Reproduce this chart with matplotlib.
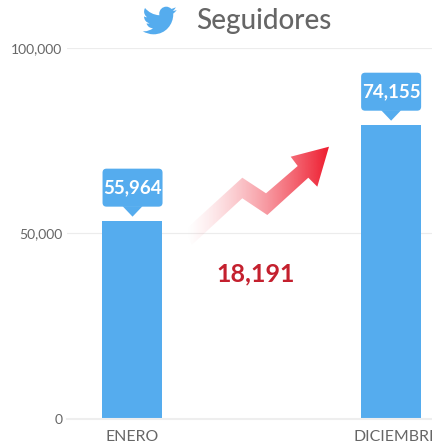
"""
Seguidores de Twitter, enero vs diciembre
"""
import numpy as np
import matplotlib
matplotlib.use('Agg')
import matplotlib.pyplot as plt
from matplotlib.patches import FancyBboxPatch, Polygon, PathPatch
from matplotlib.path import Path
from matplotlib.transforms import ScaledTranslation

W, H = 432, 445

categories = ['ENERO', 'DICIEMBRE']
bar_heights = [53400, 79300]
bar_labels = ['55,964', '74,155']
y_ticks = [0, 50000, 100000]
y_tick_labels = ['0', '50,000', '100,000']
difference = '18,191'

BLUE = '#55acee'
GREY = '#666666'

plt.rcParams['font.family'] = ['Lato', 'DejaVu Sans']

fig = plt.figure(figsize=(W / 100, H / 100), dpi=100)

# main axes, 0 at y=418.5px and 100,000 at y=48px
top = 48
bottom = 418.5
ax = fig.add_axes([67 / W, 1 - bottom / H, 1 - 67 / W, (bottom - top) / H])
ax.set_xlim(-0.2515, 1.16)
ax.set_ylim(0, 100000)
ax.bar(range(len(categories)), bar_heights, width=0.232, color=BLUE, zorder=2)
ax.set_yticks(y_ticks)
ax.set_yticklabels(y_tick_labels, fontsize=10, color=GREY)
ax.set_xticks(range(len(categories)))
ax.set_xticklabels(categories, fontsize=11.4, color=GREY)
ax.tick_params(length=0)
ax.tick_params(axis='y', pad=3.5)
ax.tick_params(axis='x', pad=8)
ax.grid(axis='y', color='#ececec', linewidth=0.8, zorder=0)
ax.spines[['top', 'right', 'left']].set_visible(False)
ax.spines['bottom'].set_color('#eeeeee')
ax.spines['bottom'].set_linewidth(1.5)

# DICIEMBRE runs off the right edge in the original
last = ax.get_xticklabels()[1]
last.set_transform(last.get_transform() + ScaledTranslation(0.055, 0, fig.dpi_scale_trans))

# overlay in pixel coords for the decorations
ov = fig.add_axes([0, 0, 1, 1], zorder=5)
ov.set_xlim(0, W)
ov.set_ylim(H, 0)
ov.axis('off')

fig.canvas.draw()
for i, (v, lab) in enumerate(zip(bar_heights, bar_labels)):
    px = ax.transData.transform((i, v))
    cx = px[0] + 0.5
    tip = H - px[1] - 4
    box_top = tip - 48
    box_bot = tip - 10
    ov.add_patch(FancyBboxPatch((cx - 28, box_top + 2), 56, 34,
                                boxstyle='round,pad=2,rounding_size=4',
                                fc=BLUE, ec='none'))
    ov.add_patch(Polygon([(cx - 10, box_bot - 0.5), (cx + 10, box_bot - 0.5), (cx, tip)],
                         fc=BLUE, ec='none'))
    ov.text(cx, (box_top + box_bot) / 2, lab, color='white', fontsize=13.5,
            fontweight='bold', ha='center', va='center')

# arrow with gradient
arrow = [(329, 146.7), (290.7, 156.7), (297.7, 166), (266, 193.3), (242.3, 177.7),
         (185, 230), (191.7, 245), (242.3, 198.3), (267.3, 215), (308.3, 177.7),
         (317.3, 186.7)]
grad = np.zeros((2, 256, 4))
grad[..., 0] = 238 / 255
grad[..., 1] = 28 / 255
grad[..., 2] = 46 / 255
grad[..., 3] = np.linspace(0, 1, 256) ** 1.4
im = ov.imshow(grad, extent=(185, 329, 246, 146), aspect='auto', zorder=3,
               interpolation='bilinear')
clip = Polygon(arrow, closed=True, transform=ov.transData, fc='none', ec='none')
ov.add_patch(clip)
im.set_clip_path(clip)
ov.set_xlim(0, W)
ov.set_ylim(H, 0)

ov.text(255.5, 274, difference, color='#c4202e', fontsize=18, fontweight='bold',
        ha='center', va='center')
ov.text(263.5, 21, 'Seguidores', color=GREY, fontsize=20, fontweight='medium',
        ha='center', va='center')

# twitter bird
bird = [
    (Path.MOVETO, (23.953, 4.57)),
    (Path.CURVE3, (22.6, 5.15)), (Path.CURVE3, (21.128, 5.345)),
    (Path.CURVE3, (22.65, 4.4)), (Path.CURVE3, (23.291, 2.622)),
    (Path.CURVE4, (22.34, 3.177)), (Path.CURVE4, (21.286, 3.581)), (Path.CURVE4, (20.164, 3.806)),
    (Path.CURVE4, (19.27, 2.85)), (Path.CURVE4, (18.0, 2.25)), (Path.CURVE4, (16.6, 2.25)),
    (Path.CURVE4, (13.9, 2.25)), (Path.CURVE4, (11.68, 4.45)), (Path.CURVE4, (11.68, 7.17)),
    (Path.CURVE4, (11.68, 7.55)), (Path.CURVE4, (11.72, 7.93)), (Path.CURVE4, (11.78, 8.288)),
    (Path.CURVE4, (7.69, 8.095)), (Path.CURVE4, (4.067, 6.13)), (Path.CURVE4, (1.64, 3.162)),
    (Path.CURVE3, (0.974, 4.3)), (Path.CURVE3, (0.974, 5.637)),
    (Path.CURVE4, (0.974, 7.347)), (Path.CURVE4, (1.844, 8.85)), (Path.CURVE4, (3.162, 9.733)),
    (Path.CURVE3, (1.95, 9.69)), (Path.CURVE3, (0.934, 9.117)),
    (Path.LINETO, (0.934, 9.177)),
    (Path.CURVE3, (1.05, 13.0)), (Path.CURVE3, (4.88, 14.004)),
    (Path.CURVE3, (3.8, 14.3)), (Path.CURVE3, (2.668, 14.089)),
    (Path.CURVE3, (3.8, 17.3)), (Path.CURVE3, (7.272, 17.506)),
    (Path.CURVE3, (4.6, 19.6)), (Path.CURVE3, (1.17, 19.611)),
    (Path.CURVE4, (0.78, 19.611)), (Path.CURVE4, (0.391, 19.588)), (Path.CURVE4, (0, 19.544)),
    (Path.CURVE3, (3.4, 21.75)), (Path.CURVE3, (7.557, 21.753)),
    (Path.CURVE4, (16.61, 21.753)), (Path.CURVE4, (21.555, 14.257)), (Path.CURVE4, (21.555, 7.768)),
    (Path.CURVE4, (21.555, 7.558)), (Path.CURVE4, (21.555, 7.348)), (Path.CURVE4, (21.54, 7.138)),
    (Path.CURVE3, (23.0, 6.1)), (Path.CURVE3, (24, 4.59)),
    (Path.CLOSEPOLY, (23.953, 4.57)),
]
codes = [c for c, _ in bird]
pts = np.array([p for _, p in bird]) * 1.417 + np.array([142.7, 3.5])
ov.add_patch(PathPatch(Path(pts, codes), fc=BLUE, ec='none'))

fig.savefig('out.png', dpi=100)
